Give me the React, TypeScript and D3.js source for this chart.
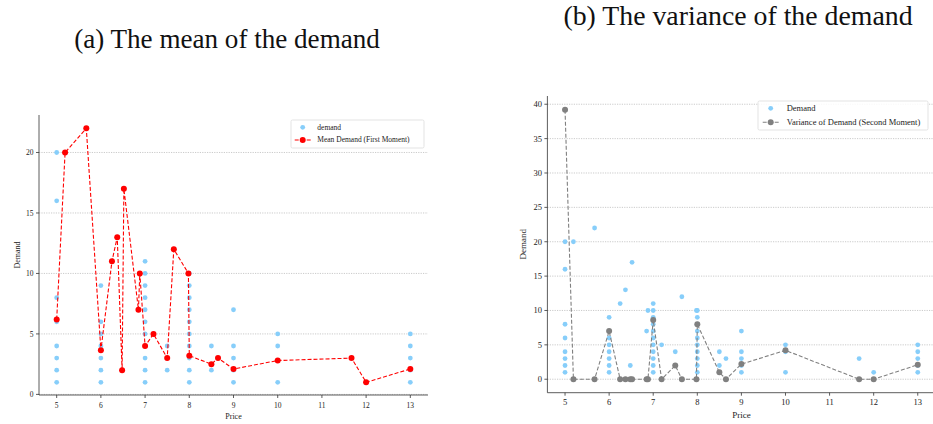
import React from "react";
import * as d3 from "d3";

// Raw observations: price and demand for every sale
const obsPrice = [
  5, 5, 5, 5, 5, 5, 5, 5,
  5.19, 5.67,
  6, 6, 6, 6, 6, 6, 6,
  6.25, 6.37, 6.48, 6.52, 6.85, 6.88,
  7, 7, 7, 7, 7, 7, 7, 7, 7, 7, 7,
  7.19, 7.5, 7.5, 7.65, 7.98,
  8, 8, 8, 8, 8, 8, 8, 8, 8, 8,
  8.5, 8.5, 8.65,
  9, 9, 9, 9, 9,
  10, 10, 10,
  11.67, 12,
  13, 13, 13, 13, 13,
];
const obsDemand = [
  20, 16, 8, 6, 4, 3, 2, 1,
  20, 22,
  9, 6, 5, 4, 3, 2, 1,
  11, 13, 2, 17, 7, 10,
  11, 10, 9, 8, 7, 6, 5, 4, 3, 2, 1,
  5, 4, 2, 12, 10,
  10, 9, 8, 7, 6, 5, 4, 3, 2, 1,
  4, 2, 3,
  7, 4, 3, 2, 1,
  5, 4, 1,
  3, 1,
  5, 4, 3, 2, 1,
];

// Per-price moments
const momentPrice = [5, 5.19, 5.67, 6, 6.25, 6.37, 6.48, 6.52, 6.85, 6.88, 7, 7.19, 7.5, 7.65, 7.98, 8, 8.5, 8.65, 9, 10, 11.67, 12, 13];
const meanDemand = [6.2, 20, 22, 3.65, 11, 13, 2, 17, 7, 10, 4, 5, 3, 12, 10, 3.2, 2.5, 3, 2.1, 2.8, 3, 1, 2.1];
const varDemand = [39.2, 0, 0, 7, 0, 0, 0, 0, 0, 0, 8.6, 0, 2, 0, 0, 8, 1, 0, 2.2, 4.2, 0, 0, 2.1];

const xTicks = [5, 6, 7, 8, 9, 10, 11, 12, 13];
const meanTicks = [0, 5, 10, 15, 20];
const varTicks = [0, 5, 10, 15, 20, 25, 30, 35, 40];

const FONT = "'Liberation Serif', 'DejaVu Serif', serif";
const BLUE = "#87cefa";
const AXIS = "#333";

type PanelProps = {
  left: number;
  right: number;
  top: number;
  bottom: number;
  yDomain: [number, number];
  yTicks: number[];
  line: number[];
  lineColor: string;
  scatterLabel: string;
  lineLabel: string;
  fs: number;
  legend: { x: number; y: number; w: number; h: number; dot: number; txt: number; r1: number; r2: number };
  yLabelX: number;
  xLabelY: number;
};

function Panel(p: PanelProps) {
  const x = d3.scaleLinear().domain([4.6, 13.4]).range([p.left, p.right]);
  const y = d3.scaleLinear().domain(p.yDomain).range([p.bottom, p.top]);
  const pts = momentPrice.map((v, i) => [v, p.line[i]] as [number, number]);
  const path = d3
    .line<[number, number]>()
    .x((d) => x(d[0]))
    .y((d) => y(d[1]))(pts) as string;
  const lg = p.legend;
  const fs = p.fs;
  return (
    <g>
      {p.yTicks.map((t) => (
        <line
          key={"g" + t}
          x1={p.left}
          x2={p.right}
          y1={y(t)}
          y2={y(t)}
          stroke="#b5b5b5"
          strokeWidth={0.7}
          strokeDasharray="1.2,1.2"
        />
      ))}
      {obsPrice.map((v, i) => (
        <circle key={"s" + i} cx={x(v)} cy={y(obsDemand[i])} r={2.4} fill={BLUE} />
      ))}
      <path d={path} fill="none" stroke={p.lineColor} strokeWidth={1.1} strokeDasharray="4,2" />
      {pts.map((d, i) => (
        <circle key={"m" + i} cx={x(d[0])} cy={y(d[1])} r={3} fill={p.lineColor} />
      ))}
      {/* axes */}
      <line x1={p.left} x2={p.left} y1={p.top} y2={p.bottom} stroke={AXIS} strokeWidth={0.8} />
      <line x1={p.left} x2={p.right} y1={p.bottom} y2={p.bottom} stroke={AXIS} strokeWidth={0.8} />
      {xTicks.map((t) => (
        <g key={"x" + t}>
          <line x1={x(t)} x2={x(t)} y1={p.bottom} y2={p.bottom + 3} stroke={AXIS} strokeWidth={0.8} />
          <text x={x(t)} y={p.bottom + 12.5} fontSize={fs} textAnchor="middle" fontFamily={FONT} fill="#222">
            {t}
          </text>
        </g>
      ))}
      {p.yTicks.map((t) => (
        <g key={"y" + t}>
          <line x1={p.left - 3} x2={p.left} y1={y(t)} y2={y(t)} stroke={AXIS} strokeWidth={0.8} />
          <text x={p.left - 5.5} y={y(t) + fs * 0.35} fontSize={fs} textAnchor="end" fontFamily={FONT} fill="#222">
            {t}
          </text>
        </g>
      ))}
      <text
        x={(p.left + p.right) / 2}
        y={p.xLabelY}
        fontSize={fs + 0.5}
        textAnchor="middle"
        fontFamily={FONT}
        fill="#222"
      >
        Price
      </text>
      <text
        transform={`translate(${p.yLabelX},${(p.top + p.bottom) / 2}) rotate(-90)`}
        fontSize={fs + 0.5}
        textAnchor="middle"
        fontFamily={FONT}
        fill="#222"
      >
        Demand
      </text>
      {/* legend */}
      <rect x={lg.x} y={lg.y} width={lg.w} height={lg.h} fill="#fff" fillOpacity={0.85} stroke="#dcdcdc" strokeWidth={0.8} rx={1.5} />
      <circle cx={lg.dot} cy={lg.r1} r={2.4} fill={BLUE} />
      <text x={lg.txt} y={lg.r1 + fs * 0.33} fontSize={fs} fontFamily={FONT} fill="#222">
        {p.scatterLabel}
      </text>
      <line
        x1={lg.dot - 8}
        x2={lg.dot + 8}
        y1={lg.r2}
        y2={lg.r2}
        stroke={p.lineColor}
        strokeWidth={1.1}
        strokeDasharray="4,2"
      />
      <circle cx={lg.dot} cy={lg.r2} r={3} fill={p.lineColor} />
      <text x={lg.txt} y={lg.r2 + fs * 0.33} fontSize={fs} fontFamily={FONT} fill="#222">
        {p.lineLabel}
      </text>
    </g>
  );
}

export default function App() {
  return (
    <svg
      width={933}
      height={424}
      style={{ position: "absolute", left: 0, top: 0, background: "#fff" }}
    >
      <text x={227} y={48} fontSize={27.1} textAnchor="middle" fontFamily={FONT} fill="#111">
        (a) The mean of the demand
      </text>
      <text x={738} y={25} fontSize={27.8} textAnchor="middle" fontFamily={FONT} fill="#111">
        (b) The variance of the demand
      </text>
      <Panel
        left={39}
        right={428}
        top={115}
        bottom={395}
        yDomain={[-0.05, 23.1]}
        yTicks={meanTicks}
        line={meanDemand}
        lineColor="#ff0000"
        scatterLabel="demand"
        lineLabel="Mean Demand (First Moment)"
        fs={7.5}
        legend={{ x: 291, y: 120, w: 133, h: 28, dot: 302.7, txt: 317.3, r1: 127.3, r2: 140 }}
        yLabelX={19.5}
        xLabelY={419}
      />
      <Panel
        left={547.4}
        right={935.4}
        top={96}
        bottom={392.7}
        yDomain={[-1.96, 41.2]}
        yTicks={varTicks}
        line={varDemand}
        lineColor="#808080"
        scatterLabel="Demand"
        lineLabel="Variance of Demand (Second Moment)"
        fs={8.5}
        legend={{ x: 758, y: 101, w: 170, h: 29, dot: 770.7, txt: 786.7, r1: 108.3, r2: 122.3 }}
        yLabelX={526}
        xLabelY={418.3}
      />
    </svg>
  );
}
